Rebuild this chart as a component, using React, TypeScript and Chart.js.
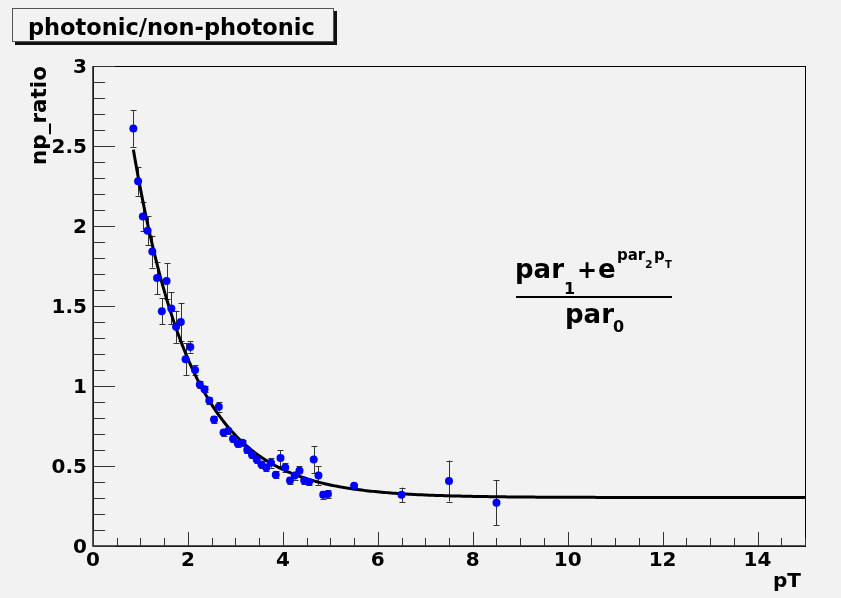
import React, { useEffect, useRef } from 'react';
import { Chart, registerables } from 'chart.js';

Chart.register(...registerables);

// ---------- data ----------
const pT = [
  0.85, 0.95, 1.05, 1.15, 1.25, 1.35, 1.45, 1.55, 1.65, 1.75,
  1.85, 1.95, 2.05, 2.15, 2.25, 2.35, 2.45, 2.55, 2.65, 2.75,
  2.85, 2.95, 3.05, 3.15, 3.25, 3.35, 3.45, 3.55, 3.65, 3.75,
  3.85, 3.95, 4.05, 4.15, 4.25, 4.35, 4.45, 4.55, 4.65, 4.75,
  4.85, 4.95, 5.5, 6.5, 7.5, 8.5,
];
const npRatio = [
  2.61, 2.28, 2.06, 1.97, 1.84, 1.675, 1.467, 1.656, 1.485, 1.37,
  1.40, 1.167, 1.244, 1.10, 1.01, 0.98, 0.91, 0.79, 0.87, 0.71,
  0.72, 0.67, 0.64, 0.645, 0.60, 0.57, 0.54, 0.51, 0.49, 0.52,
  0.446, 0.55, 0.49, 0.41, 0.44, 0.47, 0.41, 0.40, 0.54, 0.44,
  0.32, 0.325, 0.377, 0.32, 0.406, 0.27,
];
const npError = [
  0.115, 0.09, 0.09, 0.09, 0.10, 0.10, 0.08, 0.11, 0.10, 0.10,
  0.12, 0.10, 0.035, 0.03, 0.02, 0.02, 0.02, 0.02, 0.03, 0.02,
  0.02, 0.02, 0.02, 0.02, 0.02, 0.02, 0.02, 0.02, 0.02, 0.03,
  0.02, 0.05, 0.03, 0.02, 0.025, 0.03, 0.02, 0.02, 0.085, 0.06,
  0.025, 0.025, 0.01, 0.045, 0.128, 0.14,
];
// fit: (par1 + exp(par2 * pT)) / par0
const par0 = 0.233;
const par1 = 0.0706;
const par2 = -0.8;
const fitRange = [0.85, 15];

const xTickLabels = ['0', '2', '4', '6', '8', '10', '12', '14'];
const yTickLabels = ['0', '0.5', '1', '1.5', '2', '2.5', '3'];
const titleText = 'photonic/non-photonic';
const xTitle = 'pT';
const yTitle = 'np_ratio';

// ---------- style ----------
const BG = '#f2f2f2';
const FONT = '"DejaVu Sans", "Liberation Sans", sans-serif';

function fitValue(x: number) {
  return (par1 + Math.exp(par2 * x)) / par0;
}

const fitCurve: { x: number; y: number }[] = [];
for (let i = 0; i <= 300; i++) {
  const x = fitRange[0] + ((fitRange[1] - fitRange[0]) * i) / 300;
  fitCurve.push({ x, y: fitValue(x) });
}

const bgPlugin = {
  id: 'bgPlugin',
  beforeDraw(chart: any) {
    const { ctx, width, height } = chart;
    ctx.save();
    ctx.fillStyle = BG;
    ctx.fillRect(0, 0, width, height);
    ctx.restore();
  },
};

const errorBarPlugin = {
  id: 'errorBarPlugin',
  beforeDatasetsDraw(chart: any) {
    const { ctx, scales } = chart;
    const xs = scales.x;
    const ys = scales.y;
    ctx.save();
    ctx.strokeStyle = '#333333';
    ctx.lineWidth = 1;
    for (let i = 0; i < pT.length; i++) {
      const px = Math.round(xs.getPixelForValue(pT[i])) + 0.5;
      const top = ys.getPixelForValue(npRatio[i] + npError[i]);
      const bot = ys.getPixelForValue(npRatio[i] - npError[i]);
      ctx.beginPath();
      ctx.moveTo(px, top);
      ctx.lineTo(px, bot);
      ctx.moveTo(px - 3, Math.round(top) + 0.5);
      ctx.lineTo(px + 3, Math.round(top) + 0.5);
      ctx.moveTo(px - 3, Math.round(bot) + 0.5);
      ctx.lineTo(px + 3, Math.round(bot) + 0.5);
      ctx.stroke();
    }
    ctx.restore();
  },
};

function txt(ctx: CanvasRenderingContext2D, s: string, x: number, y: number, size: number, align: CanvasTextAlign = 'left') {
  ctx.font = `bold ${size}px ${FONT}`;
  ctx.textAlign = align;
  ctx.textBaseline = 'alphabetic';
  ctx.fillText(s, x, y);
}

const framePlugin = {
  id: 'framePlugin',
  afterDraw(chart: any) {
    const { ctx, chartArea: a, scales } = chart;
    const xs = scales.x;
    const ys = scales.y;
    ctx.save();
    // frame
    ctx.strokeStyle = '#000000';
    ctx.lineWidth = 1;
    ctx.strokeRect(Math.round(a.left) + 0.5, Math.round(a.top) + 0.5, Math.round(a.right - a.left), Math.round(a.bottom - a.top));
    // axes lines a bit darker/thicker
    ctx.strokeStyle = '#222222';
    ctx.lineWidth = 1.5;
    ctx.beginPath();
    ctx.moveTo(a.left, a.top);
    ctx.lineTo(a.left, a.bottom);
    ctx.lineTo(a.right, a.bottom);
    ctx.stroke();

    // ticks
    ctx.strokeStyle = '#333333';
    ctx.lineWidth = 1;
    ctx.beginPath();
    for (let v = 0; v <= 15.0001; v += 0.5) {
      const px = Math.round(xs.getPixelForValue(v)) + 0.5;
      const major = Math.abs(v / 2 - Math.round(v / 2)) < 1e-6;
      ctx.moveTo(px, a.bottom);
      ctx.lineTo(px, a.bottom - (major ? 14 : 8));
    }
    for (let k = 0; k <= 30; k++) {
      const v = k / 10;
      const py = Math.round(ys.getPixelForValue(v)) + 0.5;
      const major = k % 5 === 0;
      ctx.moveTo(a.left, py);
      ctx.lineTo(a.left + (major ? 22 : 12), py);
    }
    ctx.stroke();

    // tick labels
    ctx.fillStyle = '#000000';
    for (const l of xTickLabels) {
      const px = xs.getPixelForValue(Number(l));
      txt(ctx, l, px, a.bottom + 20, 20, 'center');
    }
    for (const l of yTickLabels) {
      const py = ys.getPixelForValue(Number(l));
      txt(ctx, l, a.left - 6, py + 7, 20, 'right');
    }

    // axis titles
    txt(ctx, xTitle, a.right - 4, a.bottom + 41, 20, 'right');
    ctx.save();
    ctx.translate(46, a.top);
    ctx.rotate(-Math.PI / 2);
    txt(ctx, yTitle, 0, 0, 21.5, 'right');
    ctx.restore();

    // title box
    ctx.fillStyle = '#111111';
    ctx.fillRect(15, 11, 322, 34);
    ctx.fillStyle = BG;
    ctx.fillRect(12, 8, 322, 34);
    ctx.strokeStyle = '#555555';
    ctx.lineWidth = 1;
    ctx.strokeRect(12.5, 8.5, 321, 33);
    ctx.fillStyle = '#000000';
    txt(ctx, titleText, 28, 35, 22.5, 'left');

    // formula
    txt(ctx, 'par', 515, 278, 26);
    txt(ctx, '1', 564, 294, 16);
    txt(ctx, '+', 587, 278, 24, 'center');
    txt(ctx, 'e', 598, 278, 26);
    txt(ctx, 'par', 617, 260, 15);
    txt(ctx, '2', 645, 268, 11);
    txt(ctx, 'p', 654, 260, 15);
    txt(ctx, 'T', 665, 268, 10);
    ctx.strokeStyle = '#000000';
    ctx.lineWidth = 2;
    ctx.beginPath();
    ctx.moveTo(516, 297);
    ctx.lineTo(672, 297);
    ctx.stroke();
    txt(ctx, 'par', 565, 323, 26);
    txt(ctx, '0', 613, 332, 16);

    ctx.restore();
  },
};

export default function App() {
  const ref = useRef<HTMLCanvasElement | null>(null);
  useEffect(() => {
    if (!ref.current) return;
    const chart = new Chart(ref.current, {
      type: 'scatter',
      data: {
        datasets: [
          {
            label: 'data',
            data: pT.map((x, i) => ({ x, y: npRatio[i] })),
            pointRadius: 4,
            pointHoverRadius: 4,
            pointBackgroundColor: '#0000ff',
            pointBorderColor: '#0000ff',
            pointBorderWidth: 0,
            showLine: false,
            order: 1,
          },
          {
            label: 'fit',
            data: fitCurve,
            showLine: true,
            pointRadius: 0,
            borderColor: '#000000',
            borderWidth: 3,
            tension: 0,
            fill: false,
            order: 2,
          },
        ],
      },
      options: {
        responsive: false,
        animation: false,
        layout: { padding: { left: 93, right: 36, top: 66, bottom: 52 } },
        plugins: { legend: { display: false }, tooltip: { enabled: false }, title: { display: false } },
        scales: {
          x: { type: 'linear', min: 0, max: 15, display: false },
          y: { type: 'linear', min: 0, max: 3, display: false },
        },
        events: [],
      },
      plugins: [bgPlugin, errorBarPlugin, framePlugin],
    });
    return () => chart.destroy();
  }, []);
  return (
    <div style={{ position: 'absolute', left: 0, top: 0, width: 841, height: 598 }}>
      <canvas ref={ref} width={841} height={598} style={{ display: 'block' }} />
    </div>
  );
}
